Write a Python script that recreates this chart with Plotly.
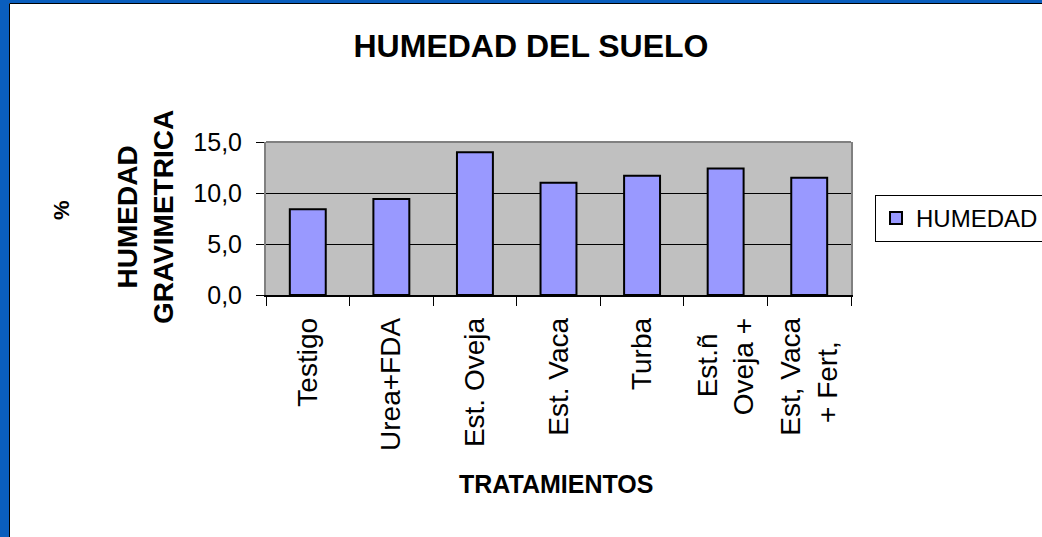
import plotly.graph_objects as go

tratamientos = ["Testigo", "Urea+FDA", "Est. Oveja", "Est. Vaca", "Turba",
                "Est.ñ\u00a0\u00a0<br>Oveja +", "Est, Vaca<br>+ Fert,\u00a0\u00a0\u00a0"]
humedad = [8.4, 9.4, 14.0, 11.0, 11.7, 12.4, 11.5]

FONT = "Liberation Sans, Arial, sans-serif"
W, H = 1042, 537
ML, MR, MT, MB = 266, 191, 142, 242
PW, PH = W - ML - MR, H - MT - MB


def px_x(x):
    return (x - ML) / PW


def px_y(y):
    return (H - MB - y) / PH


fig = go.Figure()
fig.add_trace(go.Bar(
    x=tratamientos, y=humedad, name="HUMEDAD",
    marker=dict(color="#9999FF", line=dict(color="black", width=2)),
))

fig.update_layout(
    width=W, height=H,
    margin=dict(l=ML, r=MR, t=MT, b=MB, autoexpand=False),
    paper_bgcolor="white", plot_bgcolor="#C0C0C0",
    separators=", ",
    bargap=0.57,
    font=dict(family=FONT, color="black"),
    title=dict(text="HUMEDAD DEL SUELO", x=531 / W, y=1 - 46 / H,
               xanchor="center", yanchor="middle",
               font=dict(size=32, weight="bold", family=FONT)),
    showlegend=True,
    legend=dict(x=px_x(875), y=px_y(195), xanchor="left", yanchor="top",
                bgcolor="white", bordercolor="black", borderwidth=1,
                font=dict(size=24, family=FONT)),
)

fig.update_xaxes(
    tickangle=-90, tickfont=dict(size=28), ticks="outside", ticklen=9,
    tickcolor="black", tickson="boundaries", ticklabelstandoff=10,
    showline=True, linecolor="black", linewidth=1.5, showgrid=False,
)
fig.update_yaxes(
    range=[0, 15], dtick=5, tickformat=".1f", tickfont=dict(size=25),
    ticks="outside", ticklen=8, tickcolor="black", ticklabelstandoff=9,
    showline=True, linecolor="#808080", linewidth=2, mirror=True,
    gridcolor="black", gridwidth=1, zeroline=False,
)

# borde superior gris del área de trazado
fig.add_shape(type="line", xref="paper", yref="paper", x0=0, x1=1, y0=1, y1=1,
              line=dict(color="#808080", width=2))

# marco azul de la diapositiva
fig.add_shape(type="rect", xref="paper", yref="paper", layer="above",
              x0=px_x(0), x1=px_x(9), y0=px_y(H), y1=px_y(0),
              fillcolor="#0A5EBE", line_width=0)
fig.add_shape(type="rect", xref="paper", yref="paper", layer="above",
              x0=px_x(0), x1=px_x(W), y0=px_y(3), y1=px_y(0),
              fillcolor="#0A5EBE", line_width=0)
fig.add_shape(type="line", xref="paper", yref="paper", layer="above",
              x0=px_x(9.5), x1=px_x(9.5), y0=px_y(H), y1=px_y(3.5),
              line=dict(color="black", width=1))
fig.add_shape(type="line", xref="paper", yref="paper", layer="above",
              x0=px_x(9.5), x1=px_x(W), y0=px_y(3.5), y1=px_y(3.5),
              line=dict(color="black", width=1))

# títulos de ejes
fig.add_annotation(text="HUMEDAD<br>GRAVIMETRICA", textangle=-90, showarrow=False,
                   xref="paper", yref="paper", x=px_x(145), y=px_y(217),
                   xanchor="center", yanchor="middle", align="center",
                   font=dict(size=28, weight="bold", family=FONT))
fig.add_annotation(text="%", textangle=-90, showarrow=False,
                   xref="paper", yref="paper", x=px_x(61), y=px_y(210),
                   xanchor="center", yanchor="middle",
                   font=dict(size=22, weight="bold", family=FONT))
fig.add_annotation(text="TRATAMIENTOS", showarrow=False,
                   xref="paper", yref="paper", x=px_x(556), y=px_y(484),
                   xanchor="center", yanchor="middle",
                   font=dict(size=25, weight="bold", family=FONT))

# sin margen de página, para que la figura ocupe toda la ventana
fig.write_html("out.html", config={"displayModeBar": False},
               post_script="document.body.style.margin = '0';")
